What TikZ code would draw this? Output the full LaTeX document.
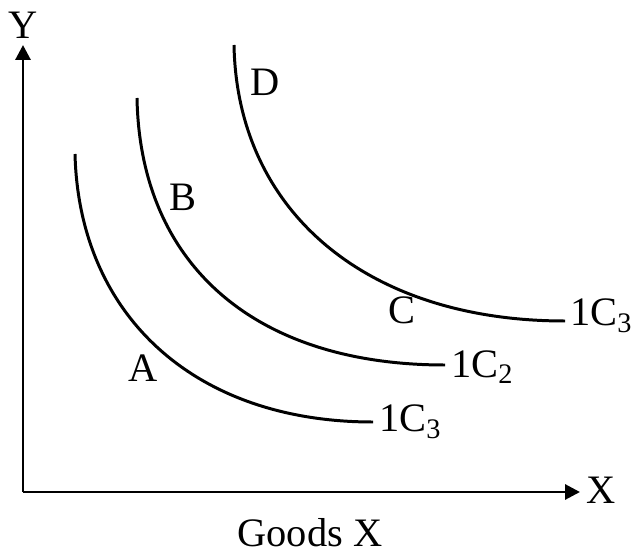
\documentclass[tikz,border=0pt]{standalone}
\usepackage{fontspec}
\setmainfont{Liberation Serif}
\usetikzlibrary{arrows.meta}

\begin{document}
\begin{tikzpicture}[x=0.02cm, y=-0.02cm,
    lbl/.style={font=\fontsize{23}{27}\selectfont, inner sep=1pt},
    axis/.style={line width=1.7pt, -{Triangle[length=8.5pt, width=8.5pt]}},
    ic/.style={line width=1.7pt}]
  \useasboundingbox (0,0) rectangle (634,553);

  % axes
  \coordinate (o) at (23,492);
  \coordinate (ytip) at (23,45);
  \coordinate (xtip) at (580,492);
  \draw[axis] (o) -- (ytip);
  \draw[axis] (o) -- (xtip);
  \node[lbl] (ylab) at (23,25) {Y};
  \node[lbl, anchor=west] (xlab) at (584,490) {X};
  \node[lbl] (goods) at (310,533) {Goods X};

  % indifference curves
  \coordinate (c1s) at (75,154);
  \coordinate (c1e) at (373,422);
  \coordinate (c2s) at (137,98);
  \coordinate (c2e) at (445,365);
  \coordinate (c3s) at (234,45);
  \coordinate (c3e) at (565,321);
  \draw[ic] (c1s) .. controls (79,315) and (194,422) .. (c1e);
  \draw[ic] (c2s) .. controls (140,264) and (254,365) .. (c2e);
  \draw[ic] (c3s) .. controls (237,211) and (366,321) .. (c3e);

  \node[lbl, anchor=west] (ic1) at (377,422) {1C\textsubscript{3}};
  \node[lbl, anchor=west] (ic2) at (449,367) {1C\textsubscript{2}};
  \node[lbl, anchor=west] (ic3) at (568,316) {1C\textsubscript{3}};

  % points
  \node[lbl] (pa) at (143,368) {A};
  \node[lbl] (pb) at (183,197) {B};
  \node[lbl] (pc) at (402,310) {C};
  \node[lbl] (pd) at (265,82) {D};
\end{tikzpicture}
\end{document}
